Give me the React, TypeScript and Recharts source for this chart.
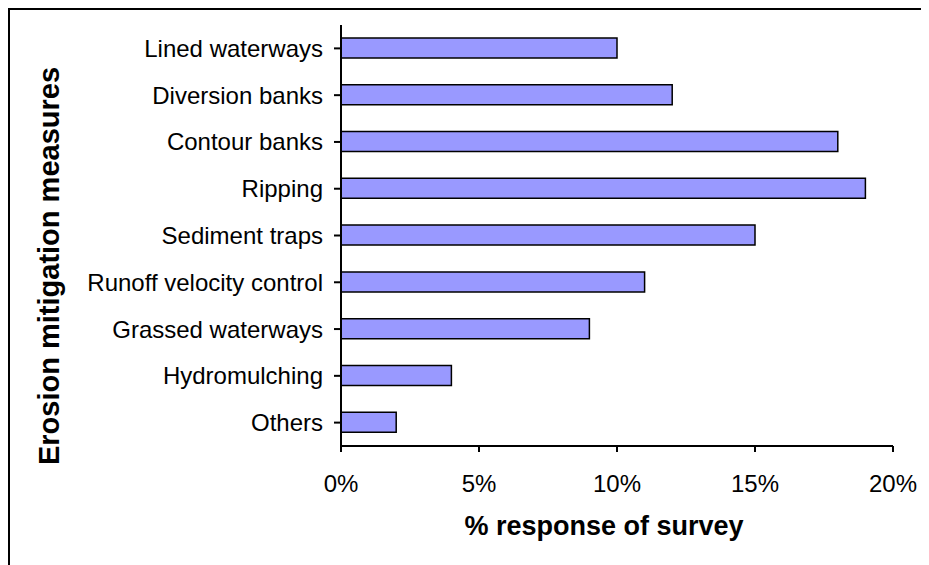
import { BarChart, Bar, XAxis, YAxis } from 'recharts'

const measures = [
  'Lined waterways',
  'Diversion banks',
  'Contour banks',
  'Ripping',
  'Sediment traps',
  'Runoff velocity control',
  'Grassed waterways',
  'Hydromulching',
  'Others',
]

const responses = [10, 12, 18, 19, 15, 11, 9, 4, 2]

const xTicks = [0, 5, 10, 15, 20]

const data = measures.map((name, i) => ({ name, value: responses[i] }))

const font = '"Liberation Sans", Arial, sans-serif'

export default function App() {
  return (
    <div
      style={{
        width: 919,
        height: 555,
        borderTop: '2px solid #000',
        borderLeft: '2px solid #000',
        fontFamily: font,
      }}
    >
      <BarChart
        width={919}
        height={555}
        data={data}
        layout="vertical"
        margin={{ top: 15, right: 36, bottom: 59, left: 0 }}
      >
        <XAxis
          type="number"
          domain={[0, 20]}
          ticks={xTicks}
          tickFormatter={(v) => `${v}%`}
          axisLine={{ stroke: '#000', strokeWidth: 2 }}
          tickLine={{ stroke: '#000', strokeWidth: 2 }}
          tickSize={6}
          tickMargin={23}
          tick={{ fill: '#000', fontSize: 24, fontFamily: font }}
          height={60}
          label={{
            content: () => (
              <text
                x={594}
                y={525}
                textAnchor="middle"
                fontSize={27}
                fontWeight="bold"
                fontFamily={font}
                fill="#000"
              >
                % response of survey
              </text>
            ),
          }}
        />
        <YAxis
          type="category"
          dataKey="name"
          width={331}
          axisLine={{ stroke: '#000', strokeWidth: 2 }}
          tickLine={{ stroke: '#000', strokeWidth: 2 }}
          tickSize={7}
          tickMargin={11}
          interval={0}
          tick={{ fill: '#000', fontSize: 24, fontFamily: font }}
          label={{
            content: () => (
              <text
                x={49}
                y={256}
                transform="rotate(-90, 49, 256)"
                textAnchor="middle"
                fontSize={29}
                fontWeight="bold"
                fontFamily={font}
                fill="#000"
              >
                Erosion mitigation measures
              </text>
            ),
          }}
        />
        <Bar
          dataKey="value"
          fill="#9999FF"
          stroke="#000"
          strokeWidth={1.5}
          barSize={20}
          isAnimationActive={false}
        />
      </BarChart>
    </div>
  )
}
